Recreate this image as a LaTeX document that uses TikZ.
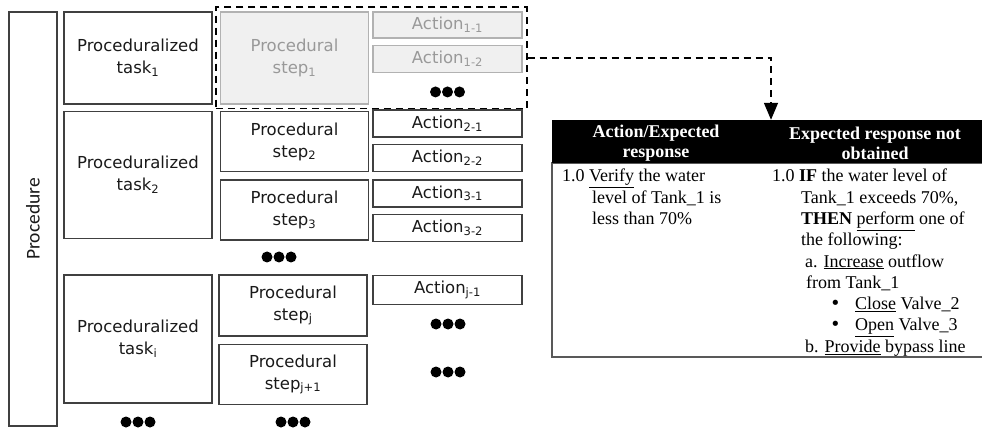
\documentclass[tikz,border=0pt]{standalone}
\usepackage{fontspec}
\newfontfamily\boxfont{DejaVu Sans}
\newfontfamily\procfont{Carlito}
\newfontfamily\tblfont{Liberation Serif}
\usetikzlibrary{positioning,fit,arrows.meta}

\tikzset{
  box/.style={draw=black!75, line width=1.5pt, inner sep=0pt, align=center,
    text=black!90, font=\boxfont\fontsize{16.5}{22}\selectfont},
  greybox/.style={box, draw=black!30, fill=black!6, text=black!40},
  taskbox/.style={box, minimum width=148},
  stepbox/.style={box, minimum width=148, minimum height=60},
  actbox/.style={box, minimum width=149, minimum height=27},
  dotsrow/.style={minimum width=38, minimum height=13, inner sep=0pt,
    path picture={\foreach \k in {-1,0,1}
      \fill (path picture bounding box.center) ++(\k*12,0) circle (5.5pt);}},
  focusbox/.style={draw, line width=1.5pt, dash pattern=on 7pt off 5pt, inner sep=4pt},
  linkarrow/.style={line width=1.5pt, dash pattern=on 7pt off 5pt,
    -{Triangle[width=14pt,length=17pt]}},
  hdrbox/.style={fill=black, inner sep=0pt},
  bodybox/.style={draw=black!65, line width=1.4pt, inner sep=0pt},
  hdrtext/.style={text=white, align=center, inner sep=0pt,
    font=\tblfont\bfseries\fontsize{18}{20}\selectfont},
  celltext/.style={anchor=north west, align=left, inner sep=0pt,
    font=\tblfont\fontsize{18}{21.3}\selectfont}
}
\newcommand{\bigbullet}{{\boxfont\fontsize{18}{18}\selectfont\textbullet}}

\begin{document}
\begin{tikzpicture}[x=1pt,y=-1pt,node distance=6pt]
\useasboundingbox (0,0) rectangle (982,430);

% procedure
\node[box, rotate=90, minimum width=414, minimum height=48,
  font=\procfont\fontsize{19.5}{22}\selectfont] (proc) at (33,219) {Procedure};

% tasks
\node[taskbox, minimum height=92] (task1) at (138,58) {Proceduralized\\task\textsubscript{1}};
\node[taskbox, minimum height=127, below=of task1] (task2) {Proceduralized\\task\textsubscript{2}};
\node[taskbox, minimum height=128] (taski) at (138,339) {Proceduralized\\task\textsubscript{i}};

% steps
\node[stepbox, greybox, minimum height=92, right=7pt of task1] (step1) {Procedural\\step\textsubscript{1}};
\node[stepbox, below=of step1] (step2) {Procedural\\step\textsubscript{2}};
\node[stepbox, below=7pt of step2] (step3) {Procedural\\step\textsubscript{3}};
\node[stepbox, minimum height=61] (stepj) at (293,305.5) {Procedural\\step\textsubscript{j}};
\node[stepbox, below=7pt of stepj] (stepj1) {Procedural\\step\textsubscript{j+1}};

% actions
\node[actbox, greybox, minimum height=26] (act11) at (447.5,25) {Action\textsubscript{1-1}};
\node[actbox, greybox, below=of act11] (act12) {Action\textsubscript{1-2}};
\node[dotsrow, below=12pt of act12] (dots1) {};
\node[actbox] (act21) at (447.5,123.5) {Action\textsubscript{2-1}};
\node[actbox, below=of act21] (act22) {Action\textsubscript{2-2}};
\node[actbox, below=7pt of act22] (act31) {Action\textsubscript{3-1}};
\node[actbox, below=of act31] (act32) {Action\textsubscript{3-2}};
\node[actbox, minimum height=29] (actj1) at (447.5,290) {Action\textsubscript{j-1}};

% more dots
\node[dotsrow] (dots2) at (279,257) {};
\node[dotsrow] (dots3) at (448,324) {};
\node[dotsrow] (dots4) at (448,372) {};
\node[dotsrow] (dots5) at (138,422) {};
\node[dotsrow] (dots6) at (293,422) {};

\node[focusbox, fit=(step1)(act11)(dots1)] (focus) {};

% table
\node[bodybox, minimum width=438, minimum height=194] (body) at (771,260) {};
\node[hdrbox, minimum width=438, minimum height=43] (hdr) at (771,141.5) {};
\node[hdrtext] (hdra) at (656,143) {Action/Expected\\response};
\node[hdrtext] (hdrb) at (875,143) {Expected response not\\obtained};

\node[celltext] (cella) at (562,169) {1.0 \underline{Verify} the water\\
  \hspace*{30pt}level of Tank\_1 is\\
  \hspace*{30pt}less than 70\%};
\node[celltext] (cellb) at (772,169) {1.0 \textbf{IF} the water level of\\
  \hspace*{29pt}Tank\_1 exceeds 70\%,\\
  \hspace*{29pt}\textbf{THEN} \underline{perform} one of\\
  \hspace*{29pt}the following:\\
  \hspace*{33pt}a. \underline{Increase} outflow\\
  \hspace*{34pt}from Tank\_1\\
  \hspace*{58pt}\makebox[25pt][l]{\bigbullet}\underline{Close} Valve\_2\\
  \hspace*{58pt}\makebox[25pt][l]{\bigbullet}\underline{Open} Valve\_3\\
  \hspace*{33pt}b. \underline{Provide} bypass line};

\draw[linkarrow] (focus.east) -| (hdr.north);
\end{tikzpicture}
\end{document}
